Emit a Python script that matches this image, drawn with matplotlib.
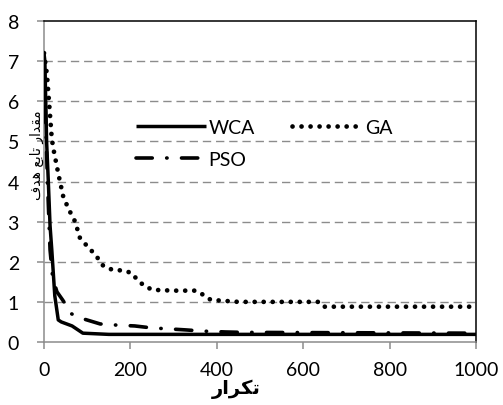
import numpy as np
import matplotlib
matplotlib.use("Agg")
import matplotlib.pyplot as plt

plt.rcParams['font.family'] = ['Lato', 'DejaVu Sans']

# WCA curve
wca_it = [0, 2, 6, 10, 14, 18, 25, 33, 40, 65, 90, 150, 1000]
wca_val = [7.2, 7.0, 5.0, 4.0, 2.9, 2.3, 1.15, 0.55, 0.5, 0.4, 0.22, 0.19, 0.19]

# GA curve
ga_it = [0, 7, 14, 18, 22, 33, 45, 60, 72, 83, 99, 113, 126, 137, 158, 184, 203,
         216, 232, 251, 300, 351, 368, 386, 450, 634, 645, 1000]
ga_val = [7.2, 6.65, 5.65, 5.07, 4.8, 4.2, 3.6, 3.25, 3.0, 2.6, 2.4, 2.24, 2.07,
          1.9, 1.8, 1.78, 1.72, 1.55, 1.4, 1.3, 1.28, 1.28, 1.18, 1.05, 1.0, 1.0,
          0.88, 0.88]

# PSO curve
pso_it = [0, 8, 14, 20, 30, 43, 64, 90, 130, 170, 210, 250, 300, 330, 370, 420,
          460, 1000]
pso_val = [7.0, 4.0, 2.3, 1.6, 1.25, 1.05, 0.7, 0.58, 0.45, 0.42, 0.4, 0.35,
           0.32, 0.3, 0.27, 0.25, 0.24, 0.22]

x_ticks = [0, 200, 400, 600, 800, 1000]
y_ticks = [0, 1, 2, 3, 4, 5, 6, 7, 8]

# Persian labels, pre-shaped (presentation forms, visual order)
x_label = "\uFEAD\uFE8D\uFEAE\uFB91\uFE97"          # تکرار
y_label = "\uFED1\uFEAA\uFEEB \uFECA\uFE91\uFE8E\uFE97 \uFEAD\uFE8D\uFEAA\uFED8\uFEE3"  # مقدار تابع هدف

fig = plt.figure(figsize=(5.03, 4.06), dpi=100, facecolor='w')
ax = fig.add_axes([44/503, 1-343/406, 432/503, 321/406])

ax.plot(wca_it, wca_val, color='k', lw=2.5, solid_capstyle='butt', label='WCA', zorder=4)
ax.plot(pso_it, pso_val, color='k', lw=2.6, linestyle=(0, (4.5, 4.0, 0.1, 4.0)),
        dash_capstyle='round', label='PSO', zorder=3)
ax.plot(ga_it, ga_val, color='k', lw=3.4, linestyle=(0, (0.01, 1.9)),
        dash_capstyle='round', label='GA', zorder=3)

ax.set_xlim(0, 1000)
ax.set_ylim(0, 8)
ax.set_xticks(x_ticks)
ax.set_yticks(y_ticks)

for v in y_ticks[1:-1]:
    ax.axhline(v, color='#8c8c8c', lw=1.0, linestyle=(0, (6, 3.5)), zorder=1)

for s in ['top', 'right']:
    ax.spines[s].set_color('k')
    ax.spines[s].set_linewidth(1.1)
for s in ['left', 'bottom']:
    ax.spines[s].set_color('#8c8c8c')
    ax.spines[s].set_linewidth(1.1)

ax.tick_params(axis='both', colors='#8c8c8c', labelcolor='k', length=5, width=1.1,
               labelsize=14)
ax.tick_params(axis='y', pad=13)
ax.tick_params(axis='x', pad=9)

leg = ax.legend(ncol=2, loc='upper left', bbox_to_anchor=(0.19, 0.725), frameon=False,
                fontsize=14, handlelength=3.6, handletextpad=0.15, columnspacing=1.9,
                borderpad=0, labelspacing=0.75)

ax.text(0.445, -0.115, x_label, transform=ax.transAxes, ha='center', va='top',
        fontsize=14, fontweight='bold', family='DejaVu Sans')
fig.text(37/503, 1-155/406, y_label, rotation=90, ha='center', va='center',
         fontsize=10, family='DejaVu Sans')

fig.savefig('out.png', dpi=100)
